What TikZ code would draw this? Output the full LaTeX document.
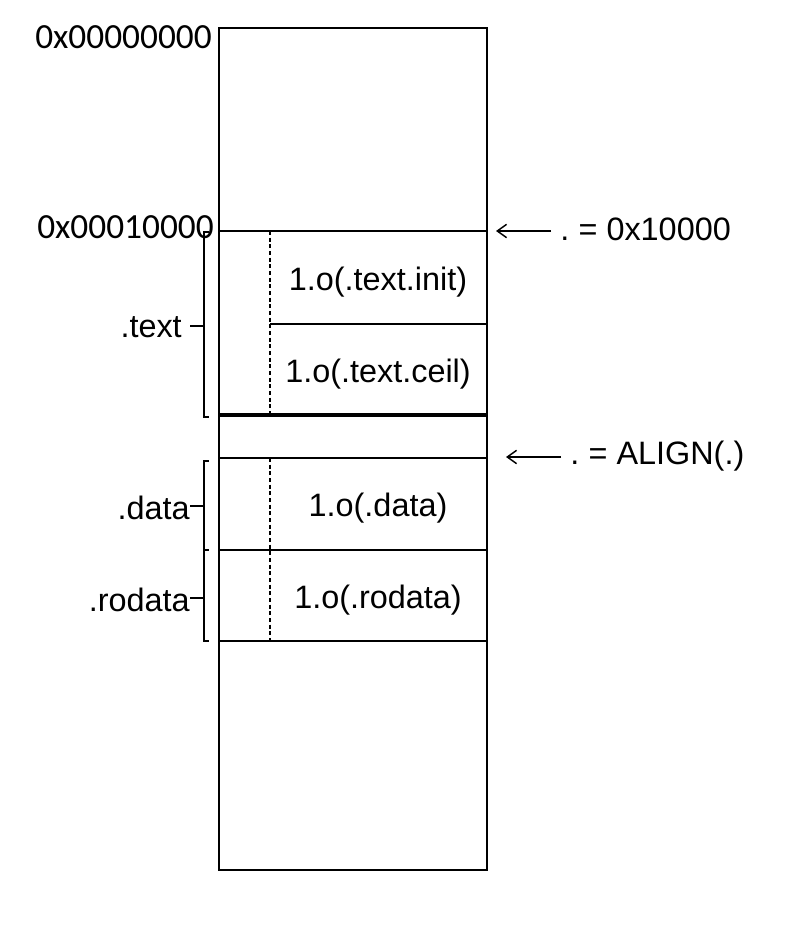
\documentclass[tikz,border=0pt]{standalone}
\usepackage{fontspec}
\setmainfont{Liberation Sans}
\newfontfamily\hexfont{Carlito}
\usetikzlibrary{arrows.meta}
\begin{document}
\begin{tikzpicture}[x=0.75pt,y=-0.75pt,
  wall/.style={line width=1.7pt},
  heavy/.style={line width=3.6pt},
  dashsep/.style={line width=1pt,dash pattern=on 3pt off 2pt},
  brace/.style={line width=1.1pt},
  lbl/.style={inner sep=0pt,font=\fontsize{24.3}{29}\selectfont},
  hexlbl/.style={inner sep=0pt,font=\hexfont\fontsize{26.5}{32}\selectfont},
  ptr/.style={line width=1.1pt,-{Straight Barb[length=7pt,width=10pt]}}]
\useasboundingbox (0,0) rectangle (805,927);
% main column
\draw[wall] (219,28) rectangle (487,870);
\draw[wall] (219,231) -- (487,231);
\draw[wall] (270,324) -- (487,324);
\draw[heavy] (219,415) -- (487,415);
\draw[wall] (219,458) -- (487,458);
\draw[wall] (219,550) -- (487,550);
\draw[wall] (219,641) -- (487,641);
\draw[dashsep] (270,231) -- (270,413);
\draw[dashsep] (270,458) -- (270,641);
% cell texts
\node[lbl] (tinit) at (378,282) {1.o(.text.init)};
\node[lbl] (tceil) at (378,374) {1.o(.text.ceil)};
\node[lbl] (odata) at (378,508) {1.o(.data)};
\node[lbl] (orodata) at (378,600) {1.o(.rodata)};
% address labels
\node[hexlbl,anchor=east] (a0) at (212,37) {0x00000000};
\node[hexlbl,anchor=east] (a1) at (214,227) {0x00010000};
% brackets
\draw[brace] (209,232) -- (204,232) -- (204,417) -- (209,417);
\draw[brace] (190,326) -- (204,326);
\draw[brace] (209,461) -- (204,461) -- (204,550) -- (209,550);
\draw[brace] (190,506) -- (204,506);
\draw[brace] (204,550) -- (204,641) -- (209,641);
\draw[brace] (190,598) -- (204,598);
\node[lbl,anchor=east] (stext) at (182,327) {.text};
\node[lbl,anchor=east] (sdata) at (190,508) {.data};
\node[lbl,anchor=east] (srodata) at (190,600) {.rodata};
% pointers
\node[lbl,anchor=west] (p1) at (560,229) {.\kern-2pt{} = 0x10000};
\node[lbl,anchor=west] (p2) at (570,456) {.\kern-2pt{} = ALIGN(.)};
\coordinate (t1) at (496,231);
\coordinate (t2) at (506,457);
\draw[ptr] (p1.west |- t1) ++(-9,0) -- (t1);
\draw[ptr] (p2.west |- t2) ++(-9,0) -- (t2);
\end{tikzpicture}
\end{document}
